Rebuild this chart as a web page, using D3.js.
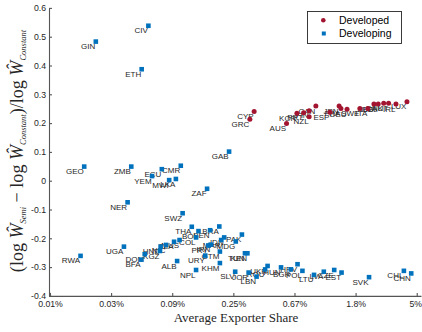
<!DOCTYPE html>
<html>
<head>
<meta charset="utf-8">
<script src="https://cdn.jsdelivr.net/npm/d3@7"></script>
<style>
  body { margin: 0; background: #fff; }
  svg { display: block; }
</style>
</head>
<body>
<script>
// Developed economies: ISO code, log average exporter share, welfare ratio
const developedCodes = ["CYP","GRC","AUS","KOR","PRT","NZL","FIN","CAN","ESP","JPN","FRA","DEU","SWE","ITA","NLD","BEL","DNK","AUT","IRL","LUX"];
const developedLogShare = [-5.66,-5.73,-5.13,-4.96,-4.85,-4.76,-4.76,-4.65,-4.42,-4.27,-4.24,-4.14,-3.93,-3.80,-3.70,-3.63,-3.54,-3.46,-3.34,-3.16];
const developedRatio = [0.240,0.213,0.199,0.234,0.236,0.222,0.243,0.259,0.238,0.259,0.251,0.248,0.251,0.251,0.266,0.266,0.269,0.269,0.266,0.274];

// Developing economies
const developingCodes = ["GIN","CIV","ETH","GEO","ZMB","NER","UGA","RWA","YEM","ECU","CMR","MWI","LKA","GAB","ZAF","SWZ","THA","BOL","BEN","BRA","PAK","IDN","MAR","MDG","COL","PRY","IRN","GTM","URY","KHM","TUN","KEN","NPL","ALB","SLV","JOR","LBN","DOM","BFA","KGZ","HND","NIC","TZA","MUS","ROU","UKR","HUN","BGR","HRV","POL","LTU","LVA","CZE","EST","SVK","CHL","CHN"];
const developingLogShare = [-8.25,-7.39,-7.50,-8.44,-7.67,-7.73,-7.79,-8.50,-7.33,-7.17,-6.86,-7.05,-6.94,-6.07,-6.43,-6.83,-6.68,-6.57,-6.38,-6.23,-5.86,-6.15,-6.20,-5.96,-6.61,-6.41,-6.37,-6.22,-6.46,-6.22,-5.81,-5.77,-6.61,-6.92,-5.97,-5.75,-5.62,-7.45,-7.51,-7.20,-7.19,-7.10,-6.97,-6.88,-5.48,-5.44,-5.22,-5.06,-4.95,-4.87,-4.68,-4.52,-4.35,-4.23,-3.78,-3.21,-3.09];
const developingRatio = [0.483,0.538,0.387,0.049,0.049,-0.075,-0.229,-0.261,0.016,0.040,0.052,0.002,0.006,0.101,-0.028,-0.113,-0.160,-0.175,-0.172,-0.159,-0.187,-0.197,-0.206,-0.211,-0.197,-0.225,-0.222,-0.246,-0.260,-0.286,-0.252,-0.252,-0.310,-0.279,-0.316,-0.319,-0.333,-0.255,-0.274,-0.244,-0.229,-0.223,-0.212,-0.206,-0.308,-0.296,-0.301,-0.308,-0.290,-0.313,-0.327,-0.316,-0.310,-0.319,-0.335,-0.313,-0.322];

// Axis ticks (x axis is the natural log of the share)
const xTickValues = [-9,-8,-7,-6,-5,-4,-3];
const xTickLabels = ["0.01%","0.03%","0.09%","0.25%","0.67%","1.8%","5%"];
const yTickValues = [-0.4,-0.3,-0.2,-0.1,0,0.1,0.2,0.3,0.4,0.5,0.6];
const yTickLabels = ["-0.4","-0.3","-0.2","-0.1","0","0.1","0.2","0.3","0.4","0.5","0.6"];

const seriesNames = ["Developed","Developing"];
const colorDeveloped = "#A2142F";
const colorDeveloping = "#0072BD";
const ink = "#262626";

const W = 422, H = 332;
const svg = d3.select("body").append("svg").attr("width", W).attr("height", H);

const x = d3.scaleLinear().domain([-9.016, -2.93]).range([49, 421]);
const y = d3.scaleLinear().domain([-0.4, 0.6]).range([295.9, 7.9]);

const tickFont = "Liberation Sans, Arial, Helvetica, sans-serif";

// Axes (ticks point into the plot)
const gx = svg.append("g").attr("transform", `translate(0,${y(-0.4)})`)
  .call(d3.axisBottom(x).tickValues(xTickValues).tickFormat((d, i) => xTickLabels[i])
    .tickSizeInner(-3).tickSizeOuter(0).tickPadding(5));
const gy = svg.append("g").attr("transform", `translate(${x.range()[0]},0)`)
  .call(d3.axisLeft(y).tickValues(yTickValues).tickFormat((d, i) => yTickLabels[i])
    .tickSizeInner(-3).tickSizeOuter(0).tickPadding(3));
[gx, gy].forEach(g => {
  g.selectAll("path.domain").attr("stroke", "#555").attr("stroke-width", 1.1);
  g.selectAll(".tick line").attr("stroke", "#555").attr("stroke-width", 1.1);
  g.selectAll(".tick text").attr("fill", ink).style("font-family", tickFont).style("font-size", "8.7px");
});
// keep the last x tick label inside the page edge
gx.selectAll(".tick text").filter((d, i, n) => i === n.length - 1).attr("dx", -1.5);

// Data
const developed = developedCodes.map((c, i) => ({ code: c, lx: developedLogShare[i], r: developedRatio[i] }));
const developing = developingCodes.map((c, i) => ({ code: c, lx: developingLogShare[i], r: developingRatio[i] }));

// Country labels: right-aligned, hanging just below each marker
const labelG = svg.append("g").style("font-family", tickFont).style("font-size", "8px").attr("fill", ink);
labelG.selectAll("text").data(developing.concat(developed)).join("text")
  .attr("x", d => x(d.lx) - 0.5)
  .attr("y", d => y(d.r) + 7.6)
  .attr("text-anchor", "end")
  .text(d => d.code);

// Markers
svg.append("g").selectAll("rect").data(developing).join("rect")
  .attr("x", d => x(d.lx) - 2.3).attr("y", d => y(d.r) - 2.3)
  .attr("width", 4.6).attr("height", 4.6).attr("fill", colorDeveloping);
svg.append("g").selectAll("circle").data(developed).join("circle")
  .attr("cx", d => x(d.lx)).attr("cy", d => y(d.r)).attr("r", 2.5)
  .attr("fill", colorDeveloped);

// Legend
const lg = svg.append("g");
lg.append("rect").attr("x", 307.5).attr("y", 11.5).attr("width", 94).attr("height", 32)
  .attr("fill", "#fff").attr("stroke", ink).attr("stroke-width", 0.9);
lg.append("circle").attr("cx", 323.3).attr("cy", 20.3).attr("r", 2.3).attr("fill", colorDeveloped);
lg.append("rect").attr("x", 321.8).attr("y", 31.5).attr("width", 4).attr("height", 4).attr("fill", colorDeveloping);
lg.selectAll("text").data(seriesNames).join("text")
  .attr("x", 339).attr("y", (d, i) => 24.3 + i * 12.6)
  .style("font-family", tickFont).style("font-size", "10.5px").attr("fill", "#000")
  .text(d => d);

// Axis titles
const serif = "Liberation Serif, DejaVu Serif, Times New Roman, serif";
svg.append("text").attr("x", 236).attr("y", 322).attr("text-anchor", "middle")
  .style("font-family", serif).style("font-size", "13px").attr("fill", ink)
  .text("Average Exporter Share");

const yl = svg.append("text").attr("text-anchor", "middle")
  .attr("transform", "translate(23,151) rotate(-90)")
  .style("font-family", serif).style("font-size", "12px").attr("fill", ink);
const parts = [
  ["(log ", null], ["Ŵ", "i"], ["Semi", "s"], [" − log ", null], ["Ŵ", "i"], ["Constant", "s"],
  [")/log ", null], ["Ŵ", "i"], ["Constant", "s"]
];
let prevSub = false;
parts.forEach(([t, kind]) => {
  const ts = yl.append("tspan").text(t);
  if (kind === "i") ts.style("font-style", "italic");
  if (kind === "s") {
    ts.style("font-style", "italic").style("font-size", "8.5px").attr("dy", 3);
    prevSub = true;
  } else if (prevSub) {
    ts.attr("dy", -3);
    prevSub = false;
  }
});
// Fit the rotated title to the plot height
const len = yl.node().getComputedTextLength();
const target = 282;
yl.style("font-size", (12 * target / len).toFixed(2) + "px");
</script>
</body>
</html>
